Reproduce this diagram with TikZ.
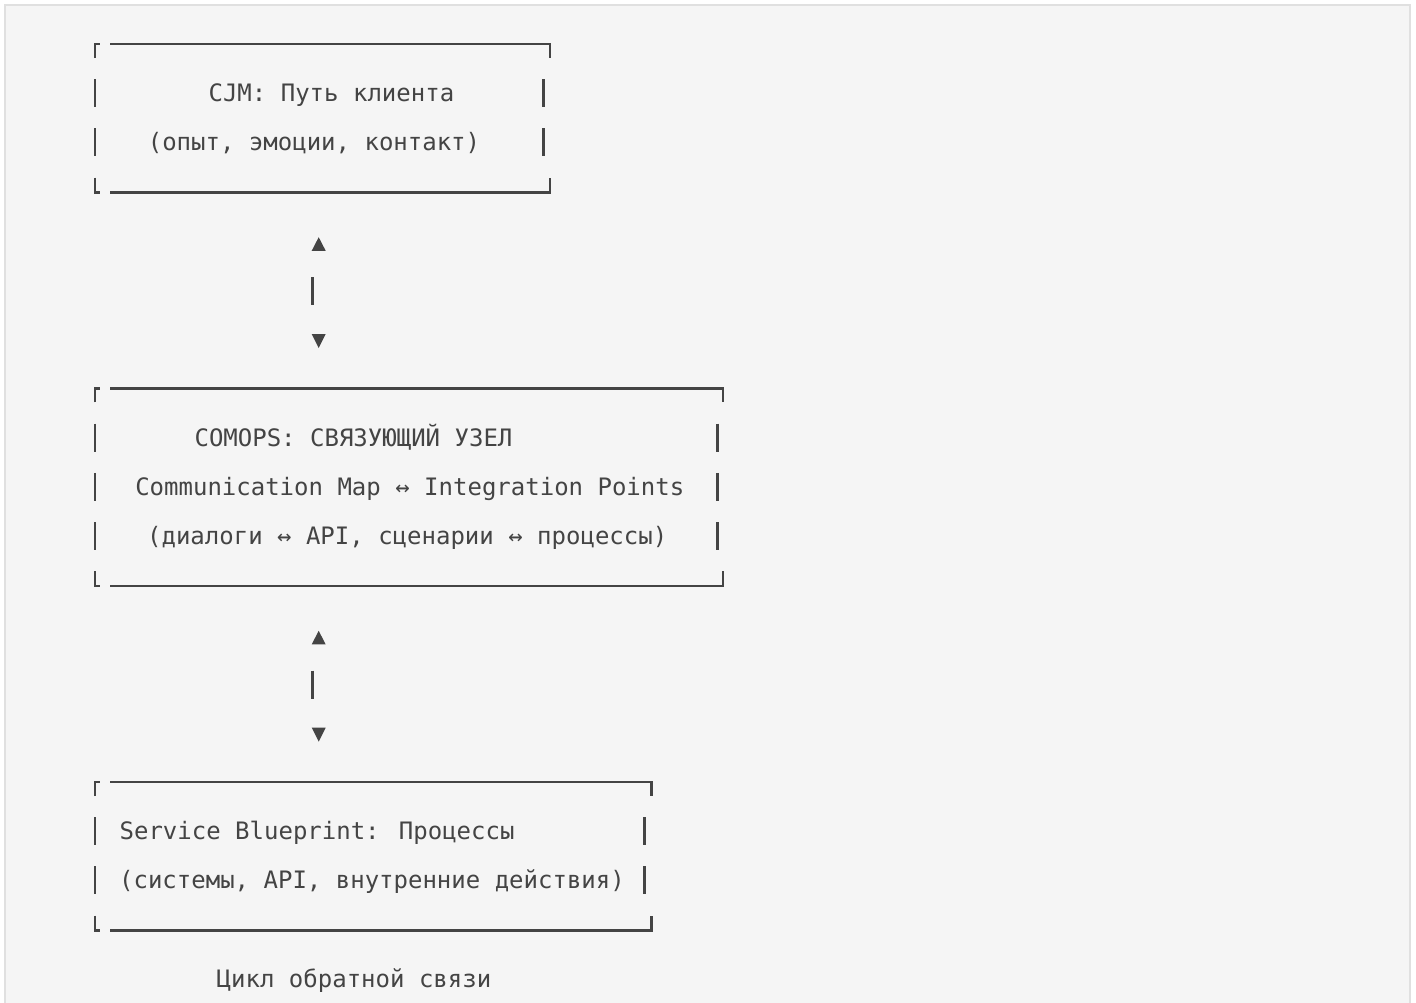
\documentclass[tikz,border=0pt]{standalone}
\usepackage{fontspec}
\newfontfamily\monofont{DejaVu Sans Mono}
\definecolor{ink}{HTML}{444444}
\definecolor{panel}{HTML}{F5F5F5}
\definecolor{framegray}{HTML}{E0E0E0}
\tikzset{
  txt/.style={font=\monofont\fontsize{24}{29}\selectfont, text=ink, inner sep=0pt, anchor=base},
  ln/.style={draw=ink, line width=2.4pt},
  tipfill/.style={fill=ink},
}
% #1 left x, #2 right corner x, #3 right bar x, #4 top y, #5 bottom y, #6 text rows
\newcommand\AsciiBox[6]{%
  \draw[ln] (#1,#4+14) -- (#1,#4) -- (#1+5,#4);
  \draw[ln] (#1+15,#4) -- (#2,#4) -- (#2,#4+14);
  \draw[ln] (#1,#5-15) -- (#1,#5) -- (#1+5,#5);
  \draw[ln] (#1+15,#5) -- (#2,#5) -- (#2,#5-15);
  \foreach \r in {#6} {
    \draw[ln] (#1,\r-14) -- (#1,\r+14);
    \draw[ln] (#3,\r-14) -- (#3,\r+14);
  }%
}
% up/down glyph arrow: #1 center x, #2 up-triangle center y, #3 bar x, #4 down-triangle center y
\newcommand\UpDown[4]{%
  \fill[tipfill] (#1-7,#2+6.8) -- (#1+7,#2+6.8) -- (#1,#2-6.8) -- cycle;
  \fill[tipfill] (#1-7,#4-7) -- (#1+7,#4-7) -- (#1,#4+7) -- cycle;
}
\begin{document}
\begin{tikzpicture}[x=1pt,y=-1pt]
  \useasboundingbox (0,0) rectangle (1416,1002);
  \fill[white] (0,0) rectangle (1416,1002);
  \fill[panel] (5,5) rectangle (1410,1010);
  \draw[framegray, line width=2pt] (5,1010) -- (5,5) -- (1410,5) -- (1410,1010);

  % Box 1: CJM
  \AsciiBox{95}{549.7}{543.3}{44}{192.5}{93.2,142.4}
  \node[txt] (cjm1) at (331.4,101.7) {CJM: Путь клиента};
  \node[txt] (cjm2) at (314,150.9) {(опыт, эмоции, контакт)};

  % Box 2: COMOPS
  \AsciiBox{95}{723}{717.6}{388.4}{586}{437.6,486.8,536}
  \node[txt] (com1) at (353.5,446.1) {COMOPS: СВЯЗУЮЩИЙ УЗЕЛ};
  \node[txt] (com2) at (409.8,495.3) {Communication Map ↔ Integration Points};
  \node[txt] (com3) at (407.2,544.5) {(диалоги ↔ API, сценарии ↔ процессы)};

  % Box 3: Service Blueprint
  \AsciiBox{95}{651.4}{644.5}{782}{930.5}{831.2,880.4}
  \node[txt] (sb1) at (317.1,839.7) {Service Blueprint: Процессы};
  \node[txt] (sb2) at (372,888.9) {(системы, API, внутренние действия)};

  \node[txt] (loop) at (354,987.3) {Цикл обратной связи};

  % connector CJM <-> COMOPS
  \coordinate (a1top) at (312.3,277);
  \coordinate (a1bot) at (312.3,305);
  \UpDown{318.7}{244}{312.3}{341}
  \draw[ln] (a1top) -- (a1bot);

  % connector COMOPS <-> Service Blueprint
  \coordinate (a2top) at (312.3,670.6);
  \coordinate (a2bot) at (312.3,698.6);
  \UpDown{318.7}{637.6}{312.3}{734.6}
  \draw[ln] (a2top) -- (a2bot);
\end{tikzpicture}
\end{document}
